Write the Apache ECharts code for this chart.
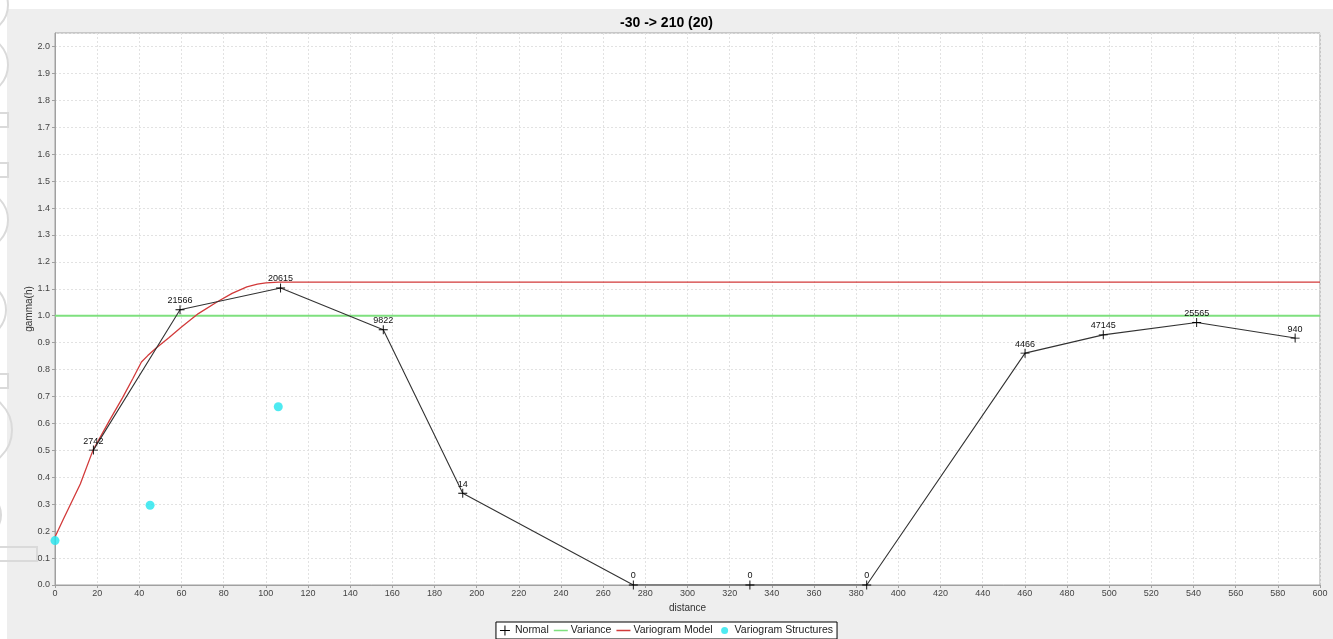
<!DOCTYPE html>
<html>
<head>
<meta charset="utf-8">
<script src="https://cdn.jsdelivr.net/npm/echarts@6/dist/echarts.min.js"></script>
<style>
html,body{margin:0;padding:0;background:#fff;}
#c{width:1333px;height:639px;}
</style>
</head>
<body>
<div id="c"></div>
<script>
// Experimental variogram ("Normal"): distance, gamma, pair counts
const distances = [18.2, 59.3, 107.0, 155.7, 193.4, 274.3, 329.6, 385.0, 460.1, 497.2, 541.5, 588.2];
const gammas    = [0.501, 1.022, 1.103, 0.948, 0.341, 0, 0, 0, 0.861, 0.929, 0.975, 0.917];
const pairCounts = [2742, 21566, 20615, 9822, 14, 0, 0, 0, 4466, 47145, 25565, 940];

// Variance line
const varianceX = [0, 600];
const varianceY = [1.0, 1.0];

// Variogram model curve
const modelX = [0, 4, 8, 12, 18, 26, 32, 37, 41, 44, 48, 54, 60, 68, 77, 84, 91, 96, 100, 106, 600];
const modelY = [0.178, 0.245, 0.31, 0.375, 0.5, 0.613, 0.695, 0.768, 0.828, 0.852, 0.88, 0.918, 0.958, 1.008, 1.052, 1.083, 1.107, 1.117, 1.122, 1.125, 1.125];

// Variogram structures
const structX = [0, 45.1, 105.9];
const structY = [0.165, 0.296, 0.662];

const titleText = '-30 -> 210 (20)';

const zip = (a, b) => a.map((v, i) => [v, b[i]]);
const crossPath = 'path://M4.5,0h1v4.5h4.5v1h-4.5v4.5h-1v-4.5h-4.5v-1h4.5z';
const linePath = 'path://M0,0L0.01,0L0,0.01ZM0,4.3h14v1.4h-14zM13.99,9.99L14,10L13.99,10Z';
const dotPath = 'path://M0,0L0.01,0L0,0.01ZM7,1.5a3.5,3.5,0,1,1,0,7a3.5,3.5,0,1,1,0,-7zM13.99,9.99L14,10L13.99,10Z';
const font = 'Liberation Sans, Arial, sans-serif';

const deco = [];
const decoStroke = {fill: 'none', stroke: '#dadada', lineWidth: 2};
[[-20, 5, 28], [-22, 65, 30], [-22, 220, 30], [-22, 310, 28], [-25, 430, 37], [-22, 515, 23]].forEach(c => {
  deco.push({type: 'circle', shape: {cx: c[0], cy: c[1], r: c[2]}, style: decoStroke, z: 1, silent: true});
});
[[-10, 113, 18, 14], [-10, 163, 18, 14], [-10, 374, 18, 14], [-10, 547, 47, 14]].forEach(r => {
  deco.push({type: 'rect', shape: {x: r[0], y: r[1], width: r[2], height: r[3]}, style: decoStroke, z: 1, silent: true});
});

const chart = echarts.init(document.getElementById('c'));
chart.setOption({
  backgroundColor: '#eeeeee',
  animation: false,
  graphic: [
    {type: 'rect', shape: {x: 0, y: 0, width: 1333, height: 9}, style: {fill: '#fff'}, z: 0, silent: true},
    {type: 'rect', shape: {x: 0, y: 0, width: 7, height: 639}, style: {fill: '#fff'}, z: 0, silent: true}
  ].concat(deco),
  title: {
    text: titleText,
    left: 'center',
    top: 11,
    textStyle: {fontFamily: font, fontSize: 14, fontWeight: 'bold', color: '#000'}
  },
  grid: {
    left: 55, right: 13, top: 33, bottom: 54,
    show: true, backgroundColor: '#fff', borderColor: '#a0a0a0', borderWidth: 1
  },
  legend: {
    left: 'center',
    top: 622,
    padding: [3, 4, 3, 4],
    itemGap: 5,
    itemWidth: 14,
    itemHeight: 10,
    borderColor: '#000',
    borderWidth: 1,
    backgroundColor: '#fff',
    textStyle: {fontFamily: font, fontSize: 10.5, color: '#222', padding: [0, 0, 0, -2]},
    data: [
      {name: 'Normal', icon: crossPath, itemStyle: {color: '#000'}},
      {name: 'Variance', icon: linePath, itemStyle: {color: '#7ee07e'}},
      {name: 'Variogram Model', icon: linePath, itemStyle: {color: '#d23a3a'}},
      {name: 'Variogram Structures', icon: dotPath, itemStyle: {color: '#22e5ee'}}
    ]
  },
  xAxis: {
    type: 'value',
    min: 0, max: 600, interval: 20,
    name: 'distance',
    nameLocation: 'middle',
    nameGap: 18,
    nameTextStyle: {fontFamily: font, fontSize: 10, color: '#333'},
    axisLine: {show: true, lineStyle: {color: '#a0a0a0'}},
    axisTick: {show: true, length: 3, lineStyle: {color: '#a0a0a0'}},
    axisLabel: {fontFamily: font, fontSize: 9, color: '#444', margin: 4},
    splitLine: {show: true, lineStyle: {color: '#e2e2e2', type: [2, 2], width: 1}}
  },
  yAxis: {
    type: 'value',
    min: 0, max: 2.05, interval: 0.1,
    name: 'gamma(h)',
    nameLocation: 'middle',
    nameGap: 21,
    nameMoveOverlap: false,
    nameTextStyle: {fontFamily: font, fontSize: 10, color: '#333'},
    axisLine: {show: true, lineStyle: {color: '#a0a0a0'}},
    axisTick: {show: true, length: 3, lineStyle: {color: '#a0a0a0'}},
    axisLabel: {
      fontFamily: font, fontSize: 9, color: '#444', margin: 5, showMaxLabel: false,
      formatter: v => (Math.abs(Math.round(v * 10) - v * 10) < 1e-6 ? v.toFixed(1) : '')
    },
    splitLine: {show: true, lineStyle: {color: '#e2e2e2', type: [2, 2], width: 1}}
  },
  series: [
    {
      name: 'Normal',
      type: 'line',
      data: zip(distances, gammas),
      symbol: crossPath,
      symbolSize: 9,
      showAllSymbol: true,
      itemStyle: {color: '#000'},
      lineStyle: {color: '#333', width: 1.1},
      label: {
        show: true,
        position: 'top',
        distance: 0,
        fontFamily: font,
        fontSize: 9,
        color: '#111',
        formatter: p => String(pairCounts[p.dataIndex])
      },
      z: 5
    },
    {
      name: 'Variance',
      type: 'line',
      data: zip(varianceX, varianceY),
      symbol: 'none',
      itemStyle: {color: '#7ee07e'},
      lineStyle: {color: '#7ee07e', width: 2},
      z: 3
    },
    {
      name: 'Variogram Model',
      type: 'line',
      data: zip(modelX, modelY),
      symbol: 'none',
      itemStyle: {color: '#d23a3a'},
      lineStyle: {color: '#d23a3a', width: 1.3},
      z: 4
    },
    {
      name: 'Variogram Structures',
      type: 'scatter',
      data: zip(structX, structY),
      symbol: 'circle',
      symbolSize: 9,
      itemStyle: {color: '#22e5ee'},
      z: 6
    }
  ]
});
</script>
</body>
</html>
